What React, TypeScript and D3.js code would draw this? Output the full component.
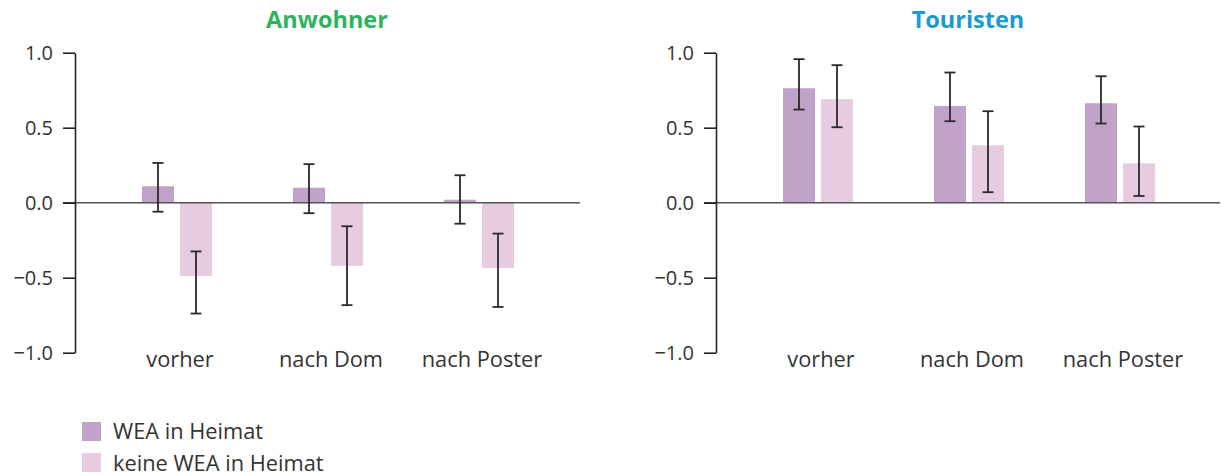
import React from 'react';
import { scaleBand, scaleLinear, select, axisLeft } from 'd3';

const categories = ['vorher', 'nach Dom', 'nach Poster'];
const series = ['WEA in Heimat', 'keine WEA in Heimat'];
const yTicks = [-1, -0.5, 0, 0.5, 1];

// Anwohner: means and error limits per category
const anwohnerWea = [0.11, 0.1, 0.02];
const anwohnerWeaLow = [-0.06, -0.07, -0.14];
const anwohnerWeaHigh = [0.265, 0.257, 0.183];
const anwohnerKeine = [-0.488, -0.421, -0.435];
const anwohnerKeineLow = [-0.739, -0.683, -0.695];
const anwohnerKeineHigh = [-0.325, -0.157, -0.206];

// Touristen
const touristenWea = [0.763, 0.645, 0.663];
const touristenWeaLow = [0.621, 0.543, 0.528];
const touristenWeaHigh = [0.957, 0.868, 0.843];
const touristenKeine = [0.69, 0.383, 0.263];
const touristenKeineLow = [0.503, 0.07, 0.045];
const touristenKeineHigh = [0.917, 0.61, 0.508];

const colors = ['#c1a3ca', '#e6cbe1'];
const font = '"Open Sans", "Noto Sans", sans-serif';

const panels = [
    {
        title: 'Anwohner', color: '#2db35e', axisX: 75, lineEnd: 580,
        values: [anwohnerWea, anwohnerKeine],
        lows: [anwohnerWeaLow, anwohnerKeineLow],
        highs: [anwohnerWeaHigh, anwohnerKeineHigh],
    },
    {
        title: 'Touristen', color: '#1a9ad1', axisX: 716, lineEnd: 1220,
        values: [touristenWea, touristenKeine],
        lows: [touristenWeaLow, touristenKeineLow],
        highs: [touristenWeaHigh, touristenKeineHigh],
    },
];

const dims = { width: 1222, height: 475, top: 52.7, bottom: 352.7 };

const App = () => {
    const ref = React.useRef<SVGSVGElement>(null);

    React.useEffect(() => {
        const svg = select(ref.current);
        svg.selectAll('*').remove();

        const yScale = scaleLinear().domain([-1, 1]).range([dims.bottom, dims.top]);
        const sub = scaleBand().domain(series).range([-35, 35]).paddingInner(6 / 38);

        panels.forEach(p => {
            const g = svg.append('g');
            const xScale = scaleBand()
                .domain(categories)
                .range([p.axisX + 26.5, p.axisX + 26.5 + 453]);

            // bars
            series.forEach((s, si) => {
                g.append('g')
                    .attr('fill', colors[si])
                    .selectAll('rect')
                    .data(p.values[si])
                    .join('rect')
                    .attr('x', (d, i) => xScale(categories[i]) + xScale.bandwidth() / 2 + sub(s))
                    .attr('width', sub.bandwidth())
                    .attr('y', d => yScale(Math.max(0, d)))
                    .attr('height', d => Math.abs(yScale(d) - yScale(0)));
            });

            // zero line
            g.append('line')
                .attr('x1', p.axisX - 12).attr('x2', p.lineEnd)
                .attr('y1', yScale(0)).attr('y2', yScale(0))
                .attr('stroke', '#555').attr('stroke-width', 1.6);

            // error bars
            series.forEach((s, si) => {
                const eg = g.append('g').attr('stroke', '#2a2a2a').attr('stroke-width', 1.8);
                categories.forEach((c, i) => {
                    const cx = xScale(c) + xScale.bandwidth() / 2 + sub(s) + sub.bandwidth() / 2;
                    const lo = yScale(p.lows[si][i]);
                    const hi = yScale(p.highs[si][i]);
                    eg.append('line').attr('x1', cx).attr('x2', cx).attr('y1', lo).attr('y2', hi);
                    eg.append('line').attr('x1', cx - 5.5).attr('x2', cx + 5.5).attr('y1', lo).attr('y2', lo);
                    eg.append('line').attr('x1', cx - 5.5).attr('x2', cx + 5.5).attr('y1', hi).attr('y2', hi);
                });
            });

            // y axis
            const yAxis = axisLeft(yScale)
                .tickValues(yTicks)
                .tickSize(12)
                .tickSizeOuter(0)
                .tickPadding(10)
                .tickFormat(d => (d < 0 ? '\u2212' : '') + Math.abs(d).toFixed(1));
            const ag = g.append('g')
                .attr('transform', `translate(${p.axisX},0)`)
                .call(yAxis);
            ag.select('.domain').attr('stroke', '#222').attr('stroke-width', 1.6);
            ag.selectAll('.tick line').attr('stroke', '#222').attr('stroke-width', 1.6);
            ag.selectAll('.tick text')
                .attr('fill', '#333')
                .style('font-family', font)
                .style('font-size', '20px');

            // category labels
            g.selectAll('text.cat')
                .data(categories)
                .join('text')
                .attr('class', 'cat')
                .attr('x', d => xScale(d) + xScale.bandwidth() / 2 + 3)
                .attr('y', 367)
                .attr('text-anchor', 'middle')
                .attr('fill', '#333')
                .style('font-family', font)
                .style('font-size', '21.8px')
                .text(d => d);

            // title
            g.append('text')
                .attr('x', xScale(categories[1]) + xScale.bandwidth() / 2 - 1)
                .attr('y', 28)
                .attr('text-anchor', 'middle')
                .attr('fill', p.color)
                .style('font-family', font)
                .style('font-size', '23.5px')
                .style('font-weight', 700)
                .text(p.title);
        });

        // legend
        const lg = svg.append('g');
        series.forEach((s, i) => {
            lg.append('rect')
                .attr('x', 82).attr('y', 422 + i * 31)
                .attr('width', 19).attr('height', 19)
                .attr('fill', colors[i]);
            lg.append('text')
                .attr('x', 113).attr('y', 439 + i * 31.5)
                .attr('fill', '#333')
                .style('font-family', font)
                .style('font-size', '21.8px')
                .text(s);
        });
    }, []);

    return (
        <svg
            ref={ref}
            width={dims.width}
            height={dims.height}
            style={{ position: 'absolute', left: 0, top: 0, background: '#fff' }}
        />
    );
};

export default App;
